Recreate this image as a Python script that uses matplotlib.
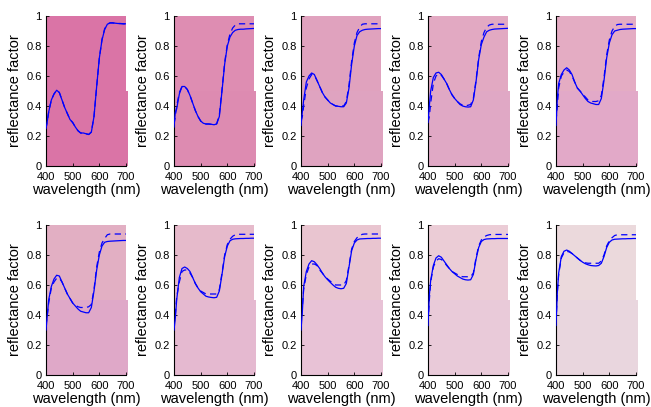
import numpy as np
import matplotlib.pyplot as plt
from matplotlib.patches import Rectangle

plt.rcParams['font.family'] = ['Liberation Sans', 'DejaVu Sans']

# ---------- data ----------
wl = [400, 405, 410, 420, 430, 440, 450, 460, 470, 480, 490, 500, 510, 520, 530, 540,
      550, 560, 570, 580, 590, 600, 610, 620, 630, 640, 650, 660, 670, 680, 690, 700]

# solid = measured, dashed = predicted
s1 = [0.25, 0.30, 0.36, 0.44, 0.48, 0.505, 0.49, 0.44, 0.39, 0.35, 0.31, 0.29, 0.26, 0.235, 0.22, 0.22,
      0.215, 0.21, 0.225, 0.33, 0.53, 0.72, 0.84, 0.91, 0.945, 0.955, 0.955, 0.952, 0.95, 0.95, 0.948, 0.948]
d1 = [0.25, 0.30, 0.36, 0.44, 0.48, 0.505, 0.49, 0.44, 0.39, 0.35, 0.31, 0.29, 0.26, 0.235, 0.22, 0.22,
      0.215, 0.21, 0.227, 0.33, 0.53, 0.72, 0.845, 0.915, 0.945, 0.953, 0.953, 0.951, 0.95, 0.949, 0.948, 0.948]

s2 = [0.26, 0.36, 0.38, 0.48, 0.53, 0.53, 0.51, 0.47, 0.42, 0.37, 0.33, 0.30, 0.285, 0.28, 0.28, 0.278,
      0.275, 0.28, 0.33, 0.50, 0.68, 0.80, 0.86, 0.89, 0.905, 0.91, 0.912, 0.912, 0.914, 0.915, 0.916, 0.917]
d2 = [0.28, 0.33, 0.40, 0.49, 0.53, 0.53, 0.51, 0.47, 0.42, 0.37, 0.33, 0.30, 0.285, 0.28, 0.28, 0.278,
      0.277, 0.282, 0.34, 0.51, 0.69, 0.81, 0.88, 0.92, 0.94, 0.948, 0.948, 0.948, 0.948, 0.948, 0.948, 0.948]

s3 = [0.27, 0.36, 0.44, 0.56, 0.60, 0.62, 0.61, 0.57, 0.53, 0.49, 0.46, 0.44, 0.42, 0.41, 0.40, 0.398,
      0.395, 0.395, 0.42, 0.52, 0.68, 0.80, 0.87, 0.895, 0.905, 0.91, 0.912, 0.913, 0.914, 0.915, 0.916, 0.916]
d3 = [0.30, 0.33, 0.40, 0.52, 0.58, 0.61, 0.605, 0.57, 0.53, 0.49, 0.46, 0.44, 0.42, 0.41, 0.40, 0.40,
      0.40, 0.40, 0.43, 0.54, 0.70, 0.82, 0.89, 0.925, 0.945, 0.948, 0.948, 0.948, 0.948, 0.948, 0.948, 0.948]

s4 = [0.29, 0.40, 0.50, 0.59, 0.62, 0.625, 0.61, 0.58, 0.55, 0.51, 0.475, 0.45, 0.43, 0.41, 0.40, 0.395,
      0.393, 0.395, 0.44, 0.56, 0.71, 0.81, 0.86, 0.895, 0.905, 0.91, 0.913, 0.914, 0.915, 0.916, 0.917, 0.918]
d4 = [0.29, 0.33, 0.42, 0.55, 0.60, 0.615, 0.605, 0.58, 0.55, 0.51, 0.475, 0.45, 0.43, 0.415, 0.405, 0.40,
      0.405, 0.41, 0.45, 0.57, 0.72, 0.83, 0.89, 0.925, 0.94, 0.945, 0.945, 0.945, 0.945, 0.945, 0.945, 0.945]

s5 = [0.27, 0.45, 0.55, 0.61, 0.64, 0.655, 0.64, 0.61, 0.56, 0.52, 0.50, 0.475, 0.45, 0.43, 0.42, 0.415,
      0.41, 0.41, 0.45, 0.57, 0.72, 0.82, 0.875, 0.90, 0.905, 0.91, 0.912, 0.913, 0.914, 0.915, 0.916, 0.916]
d5 = [0.30, 0.40, 0.52, 0.60, 0.625, 0.64, 0.63, 0.60, 0.56, 0.52, 0.50, 0.48, 0.46, 0.44, 0.43, 0.43,
      0.43, 0.435, 0.47, 0.59, 0.74, 0.84, 0.90, 0.93, 0.943, 0.945, 0.945, 0.945, 0.945, 0.945, 0.945, 0.945]

s6 = [0.30, 0.40, 0.50, 0.59, 0.64, 0.665, 0.66, 0.62, 0.58, 0.54, 0.51, 0.48, 0.46, 0.44, 0.425, 0.42,
      0.415, 0.415, 0.45, 0.56, 0.70, 0.80, 0.86, 0.885, 0.89, 0.892, 0.893, 0.894, 0.895, 0.896, 0.897, 0.897]
d6 = [0.33, 0.40, 0.48, 0.58, 0.62, 0.645, 0.645, 0.62, 0.58, 0.54, 0.51, 0.48, 0.465, 0.455, 0.45, 0.45,
      0.45, 0.455, 0.47, 0.57, 0.72, 0.82, 0.88, 0.91, 0.935, 0.94, 0.94, 0.94, 0.94, 0.94, 0.94, 0.94]

s7 = [0.30, 0.38, 0.50, 0.65, 0.71, 0.72, 0.71, 0.69, 0.65, 0.61, 0.58, 0.555, 0.54, 0.525, 0.52, 0.517,
      0.515, 0.518, 0.56, 0.67, 0.79, 0.86, 0.895, 0.905, 0.908, 0.909, 0.91, 0.91, 0.911, 0.911, 0.912, 0.912]
d7 = [0.33, 0.40, 0.52, 0.62, 0.69, 0.70, 0.70, 0.68, 0.65, 0.61, 0.58, 0.56, 0.55, 0.54, 0.54, 0.54,
      0.54, 0.54, 0.57, 0.68, 0.80, 0.87, 0.905, 0.925, 0.935, 0.938, 0.938, 0.938, 0.938, 0.938, 0.938, 0.938]

s8 = [0.30, 0.42, 0.59, 0.69, 0.74, 0.762, 0.755, 0.735, 0.71, 0.68, 0.655, 0.635, 0.617, 0.60, 0.585, 0.578,
      0.575, 0.578, 0.61, 0.72, 0.83, 0.88, 0.90, 0.907, 0.908, 0.909, 0.91, 0.91, 0.911, 0.911, 0.912, 0.912]
d8 = [0.33, 0.45, 0.57, 0.67, 0.72, 0.74, 0.74, 0.73, 0.70, 0.68, 0.655, 0.64, 0.625, 0.61, 0.60, 0.60,
      0.60, 0.60, 0.63, 0.73, 0.84, 0.89, 0.915, 0.93, 0.938, 0.94, 0.94, 0.94, 0.94, 0.94, 0.94, 0.94]

s9 = [0.33, 0.53, 0.63, 0.73, 0.78, 0.795, 0.785, 0.76, 0.735, 0.71, 0.69, 0.675, 0.66, 0.65, 0.64, 0.635,
      0.633, 0.635, 0.67, 0.77, 0.85, 0.89, 0.903, 0.907, 0.908, 0.909, 0.909, 0.91, 0.91, 0.91, 0.91, 0.91]
d9 = [0.35, 0.50, 0.62, 0.72, 0.76, 0.775, 0.77, 0.755, 0.73, 0.71, 0.69, 0.68, 0.67, 0.66, 0.655, 0.655,
      0.655, 0.655, 0.68, 0.78, 0.86, 0.90, 0.92, 0.93, 0.935, 0.937, 0.937, 0.937, 0.937, 0.937, 0.937, 0.937]

s10 = [0.33, 0.55, 0.68, 0.79, 0.825, 0.833, 0.825, 0.81, 0.795, 0.78, 0.765, 0.752, 0.742, 0.735, 0.73, 0.728,
       0.727, 0.73, 0.745, 0.79, 0.85, 0.885, 0.90, 0.905, 0.906, 0.907, 0.908, 0.908, 0.909, 0.909, 0.91, 0.91]
d10 = [0.35, 0.55, 0.67, 0.78, 0.815, 0.825, 0.82, 0.81, 0.795, 0.78, 0.765, 0.755, 0.748, 0.745, 0.745, 0.745,
       0.745, 0.745, 0.76, 0.80, 0.86, 0.895, 0.915, 0.93, 0.935, 0.935, 0.935, 0.935, 0.935, 0.935, 0.935, 0.935]

solid = [s1, s2, s3, s4, s5, s6, s7, s8, s9, s10]
dashed = [d1, d2, d3, d4, d5, d6, d7, d8, d9, d10]

# patch colours (upper half / lower half of each panel)
top_colors = ['#DA74A6', '#DE8DB2', '#E0A2BE', '#E2A9C2', '#E4ACC3',
              '#E2AFC3', '#E6BACB', '#E9C5D0', '#EBCCD6', '#EBD9DC']
bottom_colors = ['#DA74A6', '#DD8BB1', '#DFA3C0', '#E0A8C5', '#E2A9C8',
                 '#DFA8C8', '#E5B9D0', '#E8C2D6', '#E9CAD9', '#E9D6DE']

xticks = [400, 500, 600, 700]
yticks = [0, 0.2, 0.4, 0.6, 0.8, 1]
ytick_labels = ['0', '0.2', '0.4', '0.6', '0.8', '1']

# ---------- figure ----------
W, H = 651, 407
fig = plt.figure(figsize=(W/100, H/100), dpi=100)

lefts = [46, 174, 301, 428, 556]   # px
tops = [16, 225]                   # px
aw, ah = 80, 150

for k in range(10):
    r, c = divmod(k, 5)
    ax = fig.add_axes([lefts[c]/W, 1 - (tops[r] + ah)/H, aw/W, ah/H])
    ax.set_facecolor('none')

    # background colour patches
    ax.add_patch(Rectangle((0, 0.5), 1.0, 0.5, transform=ax.transAxes,
                           facecolor=top_colors[k], edgecolor='none', zorder=0))
    ax.add_patch(Rectangle((0, 0), 1.025, 0.5, transform=ax.transAxes,
                           facecolor=bottom_colors[k], edgecolor='none', zorder=0, clip_on=False))

    ax.plot(wl, dashed[k], color='#0000FF', lw=0.9, ls=(0, (5, 3.5)), zorder=2)
    ax.plot(wl, solid[k], color='#0000FF', lw=0.9, zorder=3)

    ax.set_xlim(400, 700)
    ax.set_ylim(0, 1)
    ax.set_xticks(xticks)
    ax.set_yticks(yticks)
    ax.set_yticklabels(ytick_labels)
    ax.tick_params(direction='in', length=2.5, width=0.6, labelsize=8, pad=3)
    ax.tick_params(axis='x', pad=4.2)

    ax.spines['top'].set_visible(False)
    ax.spines['right'].set_visible(False)
    ax.spines['left'].set_linewidth(0.8)
    ax.spines['bottom'].set_linewidth(0.8)

    ax.set_xlabel('wavelength (nm)', fontsize=10.5, labelpad=0.5)
    ax.set_ylabel('reflectance factor', fontsize=10.5, labelpad=3)

fig.savefig('out.png', dpi=100)
